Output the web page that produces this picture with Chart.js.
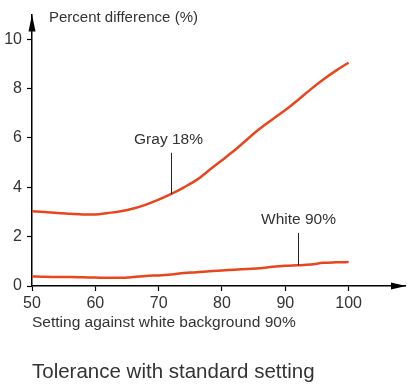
<!DOCTYPE html>
<html>
<head>
<meta charset="utf-8">
<script src="https://cdn.jsdelivr.net/npm/chart.js@4.4.1/dist/chart.umd.min.js"></script>
<style>
  html, body { margin: 0; padding: 0; background: #fff; }
  #c { display: block; }
</style>
</head>
<body>
<canvas id="c" width="407" height="387"></canvas>
<script>
// 数据
const settings = [50, 52, 54, 56, 58, 60, 62, 64, 66, 68, 70, 72, 74, 76, 78, 80, 82, 84, 86, 88, 90, 92, 94, 96, 98, 100];
const gray18 = [3.03, 3.0, 2.96, 2.93, 2.9, 2.9, 2.96, 3.03, 3.14, 3.3, 3.5, 3.73, 4.0, 4.3, 4.7, 5.1, 5.5, 5.95, 6.38, 6.76, 7.13, 7.54, 7.97, 8.37, 8.73, 9.05];
const white90 = [0.39, 0.37, 0.36, 0.36, 0.35, 0.34, 0.33, 0.33, 0.36, 0.41, 0.43, 0.47, 0.53, 0.56, 0.6, 0.63, 0.66, 0.69, 0.72, 0.78, 0.82, 0.84, 0.87, 0.94, 0.96, 0.97];
const xTicks = [50, 60, 70, 80, 90, 100];
const yTicks = [0, 2, 4, 6, 8, 10];
const seriesLabels = ['Gray 18%', 'White 90%'];
const labelAt = [72, 92];       // 标注线所在的横坐标
const labelTop = [5.4, 2.15];   // 标注线顶端的纵坐标

const yTitle = 'Percent difference (%)';
const xTitle = 'Setting against white background 90%';
const chartTitle = 'Tolerance with standard setting';

const lineColor = '#e8461c';
const textColor = '#333';
const fontFamily = '"Liberation Sans", Arial, sans-serif';

// 坐标轴箭头、标注和文字
const decorPlugin = {
  id: 'decor',
  afterDraw(chart) {
    const ctx = chart.ctx;
    const area = chart.chartArea;
    const xs = chart.scales.x;
    const ys = chart.scales.y;
    ctx.save();

    // 箭头
    ctx.fillStyle = '#000';
    ctx.beginPath();
    ctx.moveTo(area.left, area.top);
    ctx.lineTo(area.left - 3.5, area.top + 17);
    ctx.lineTo(area.left + 3.5, area.top + 17);
    ctx.closePath();
    ctx.fill();
    ctx.beginPath();
    ctx.moveTo(area.right + 1, area.bottom);
    ctx.lineTo(area.right - 14, area.bottom - 3.5);
    ctx.lineTo(area.right - 14, area.bottom + 3.5);
    ctx.closePath();
    ctx.fill();

    // 标注线
    const data = [gray18, white90];
    const labelShift = [-3, 0];
    ctx.strokeStyle = '#222';
    ctx.lineWidth = 1;
    ctx.font = '15.5px ' + fontFamily;
    ctx.fillStyle = textColor;
    ctx.textAlign = 'center';
    ctx.textBaseline = 'middle';
    seriesLabels.forEach((label, i) => {
      const idx = settings.indexOf(labelAt[i]);
      const px = Math.round(xs.getPixelForValue(labelAt[i])) + 0.5;
      const yTop = ys.getPixelForValue(labelTop[i]);
      const yBottom = ys.getPixelForValue(data[i][idx]);
      ctx.beginPath();
      ctx.moveTo(px, yTop);
      ctx.lineTo(px, yBottom);
      ctx.stroke();
      ctx.fillText(label, px + labelShift[i], yTop - 13);
    });

    // 文字
    ctx.textAlign = 'left';
    ctx.font = '15px ' + fontFamily;
    ctx.fillText(yTitle, area.left + 17, 18);
    ctx.font = '15.5px ' + fontFamily;
    ctx.fillText(xTitle, area.left, 323);
    ctx.font = '20.5px ' + fontFamily;
    ctx.fillText(chartTitle, area.left, 372);
    ctx.restore();
  }
};

const tickFont = { family: fontFamily, size: 16 };

new Chart(document.getElementById('c'), {
  type: 'line',
  data: {
    datasets: [
      { label: seriesLabels[0], data: settings.map((x, i) => ({ x, y: gray18[i] })) },
      { label: seriesLabels[1], data: settings.map((x, i) => ({ x, y: white90[i] })) }
    ].map(ds => Object.assign(ds, {
      borderColor: lineColor,
      borderWidth: 2.5,
      pointRadius: 0,
      cubicInterpolationMode: 'monotone',
      fill: false
    }))
  },
  options: {
    responsive: false,
    devicePixelRatio: 1,
    animation: false,
    layout: { padding: { top: 5, right: 2, left: 0, bottom: 0 } },
    plugins: {
      legend: { display: false },
      tooltip: { enabled: false },
      title: { display: false }
    },
    scales: {
      x: {
        type: 'linear',
        min: 50,
        max: 108.9,
        afterBuildTicks: s => { s.ticks = xTicks.map(v => ({ value: v })); },
        afterFit: s => { s.height = 101; },
        grid: { display: true, drawOnChartArea: false, drawTicks: true, tickLength: 5, tickColor: '#000', tickWidth: 1.2 },
        border: { display: true, color: '#000', width: 1.5 },
        ticks: { color: textColor, font: tickFont, padding: 3, maxRotation: 0, autoSkip: false }
      },
      y: {
        min: 0,
        max: 11,
        afterBuildTicks: s => { s.ticks = yTicks.map(v => ({ value: v })); },
        afterFit: s => { s.width = 32; },
        grid: { display: true, drawOnChartArea: false, drawTicks: true, tickLength: 5, tickColor: '#000', tickWidth: 1.2 },
        border: { display: true, color: '#000', width: 1.5 },
        ticks: { color: textColor, font: tickFont, padding: 5 }
      }
    }
  },
  plugins: [decorPlugin]
});
</script>
</body>
</html>
